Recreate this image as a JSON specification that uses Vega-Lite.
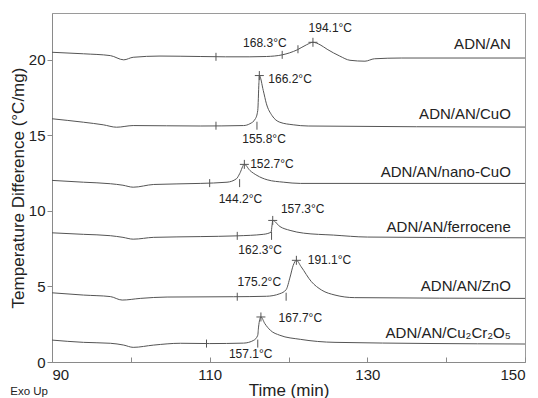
{
  "$schema": "https://vega.github.io/schema/vega-lite/v6.json",
  "width": 473,
  "height": 349,
  "autosize": "none",
  "padding": {"left": 52, "top": 13, "right": 13, "bottom": 36},
  "config": {
    "font": "Liberation Sans",
    "view": {"stroke": "#9a9a9a", "strokeWidth": 1},
    "axis": {
      "grid": false,
      "domainColor": "#8a8a8a",
      "tickColor": "#8a8a8a",
      "labelColor": "#222222",
      "titleColor": "#222222",
      "labelFont": "Liberation Sans",
      "titleFont": "Liberation Sans",
      "labelFontSize": 15,
      "titleFontSize": 17,
      "titleFontWeight": "normal"
    }
  },
  "datasets": {
    "curves": [
      {"s": "ADN/AN", "t": 90, "v": 20.5},
      {"s": "ADN/AN", "t": 94.0, "v": 20.4},
      {"s": "ADN/AN", "t": 97.4, "v": 20.28},
      {"s": "ADN/AN", "t": 99.1, "v": 20.0},
      {"s": "ADN/AN", "t": 100.3, "v": 20.17},
      {"s": "ADN/AN", "t": 103.7, "v": 20.25},
      {"s": "ADN/AN", "t": 108.8, "v": 20.22},
      {"s": "ADN/AN", "t": 112, "v": 20.2},
      {"s": "ADN/AN", "t": 115.1, "v": 20.2},
      {"s": "ADN/AN", "t": 117.2, "v": 20.22},
      {"s": "ADN/AN", "t": 119.2, "v": 20.33},
      {"s": "ADN/AN", "t": 121.1, "v": 20.66},
      {"s": "ADN/AN", "t": 122.3, "v": 21.0},
      {"s": "ADN/AN", "t": 123.1, "v": 21.16},
      {"s": "ADN/AN", "t": 124.0, "v": 21.0},
      {"s": "ADN/AN", "t": 124.9, "v": 20.7},
      {"s": "ADN/AN", "t": 126.5, "v": 20.25},
      {"s": "ADN/AN", "t": 127.8, "v": 19.97},
      {"s": "ADN/AN", "t": 129.7, "v": 19.91},
      {"s": "ADN/AN", "t": 130.9, "v": 20.07},
      {"s": "ADN/AN", "t": 134.3, "v": 20.12},
      {"s": "ADN/AN", "t": 150, "v": 20.12},

      {"s": "CuO", "t": 90, "v": 16.1},
      {"s": "CuO", "t": 94.0, "v": 15.87},
      {"s": "CuO", "t": 96.5, "v": 15.7},
      {"s": "CuO", "t": 98.2, "v": 15.54},
      {"s": "CuO", "t": 100.3, "v": 15.65},
      {"s": "CuO", "t": 108.8, "v": 15.62},
      {"s": "CuO", "t": 114.3, "v": 15.65},
      {"s": "CuO", "t": 115.1, "v": 15.77},
      {"s": "CuO", "t": 115.8, "v": 16.1},
      {"s": "CuO", "t": 116.1, "v": 16.65},
      {"s": "CuO", "t": 116.25, "v": 18.5},
      {"s": "CuO", "t": 116.3, "v": 18.96},
      {"s": "CuO", "t": 116.8, "v": 17.97},
      {"s": "CuO", "t": 117.2, "v": 17.09},
      {"s": "CuO", "t": 117.9, "v": 16.32},
      {"s": "CuO", "t": 118.9, "v": 15.87},
      {"s": "CuO", "t": 120.6, "v": 15.7},
      {"s": "CuO", "t": 122.5, "v": 15.62},
      {"s": "CuO", "t": 150, "v": 15.55},

      {"s": "nano-CuO", "t": 90, "v": 12.02},
      {"s": "nano-CuO", "t": 94.0, "v": 11.9},
      {"s": "nano-CuO", "t": 97.4, "v": 11.8},
      {"s": "nano-CuO", "t": 99.0, "v": 11.7},
      {"s": "nano-CuO", "t": 100.3, "v": 11.57},
      {"s": "nano-CuO", "t": 102.9, "v": 11.75},
      {"s": "nano-CuO", "t": 108.8, "v": 11.82},
      {"s": "nano-CuO", "t": 112.2, "v": 11.9},
      {"s": "nano-CuO", "t": 113.4, "v": 12.13},
      {"s": "nano-CuO", "t": 113.8, "v": 12.46},
      {"s": "nano-CuO", "t": 114.4, "v": 13.08},
      {"s": "nano-CuO", "t": 115.1, "v": 12.68},
      {"s": "nano-CuO", "t": 116.0, "v": 12.35},
      {"s": "nano-CuO", "t": 117.3, "v": 12.06},
      {"s": "nano-CuO", "t": 119.4, "v": 11.9},
      {"s": "nano-CuO", "t": 121.5, "v": 11.82},
      {"s": "nano-CuO", "t": 150, "v": 11.82},

      {"s": "ferrocene", "t": 90, "v": 8.55},
      {"s": "ferrocene", "t": 94.0, "v": 8.45},
      {"s": "ferrocene", "t": 97.4, "v": 8.36},
      {"s": "ferrocene", "t": 99.0, "v": 8.25},
      {"s": "ferrocene", "t": 100.3, "v": 8.13},
      {"s": "ferrocene", "t": 102.9, "v": 8.25},
      {"s": "ferrocene", "t": 108.8, "v": 8.3},
      {"s": "ferrocene", "t": 113.5, "v": 8.35},
      {"s": "ferrocene", "t": 116.8, "v": 8.45},
      {"s": "ferrocene", "t": 117.8, "v": 8.6},
      {"s": "ferrocene", "t": 117.9, "v": 9.0},
      {"s": "ferrocene", "t": 118.0, "v": 9.37},
      {"s": "ferrocene", "t": 118.9, "v": 8.97},
      {"s": "ferrocene", "t": 120.2, "v": 8.71},
      {"s": "ferrocene", "t": 121.9, "v": 8.53},
      {"s": "ferrocene", "t": 125.7, "v": 8.4},
      {"s": "ferrocene", "t": 130, "v": 8.27},
      {"s": "ferrocene", "t": 150, "v": 8.22},

      {"s": "ZnO", "t": 90, "v": 4.58},
      {"s": "ZnO", "t": 94.0, "v": 4.43},
      {"s": "ZnO", "t": 97.4, "v": 4.33},
      {"s": "ZnO", "t": 98.9, "v": 4.1},
      {"s": "ZnO", "t": 101.2, "v": 4.21},
      {"s": "ZnO", "t": 104.6, "v": 4.3},
      {"s": "ZnO", "t": 113.0, "v": 4.32},
      {"s": "ZnO", "t": 117.2, "v": 4.35},
      {"s": "ZnO", "t": 118.9, "v": 4.52},
      {"s": "ZnO", "t": 119.7, "v": 4.79},
      {"s": "ZnO", "t": 120.2, "v": 5.62},
      {"s": "ZnO", "t": 120.6, "v": 6.4},
      {"s": "ZnO", "t": 121.0, "v": 6.73},
      {"s": "ZnO", "t": 121.6, "v": 6.31},
      {"s": "ZnO", "t": 122.9, "v": 5.32},
      {"s": "ZnO", "t": 124.2, "v": 4.76},
      {"s": "ZnO", "t": 125.9, "v": 4.43},
      {"s": "ZnO", "t": 128.4, "v": 4.26},
      {"s": "ZnO", "t": 150, "v": 4.21},

      {"s": "Cu2Cr2O5", "t": 90, "v": 1.45},
      {"s": "Cu2Cr2O5", "t": 94.0, "v": 1.3},
      {"s": "Cu2Cr2O5", "t": 97.4, "v": 1.24},
      {"s": "Cu2Cr2O5", "t": 99.1, "v": 1.12},
      {"s": "Cu2Cr2O5", "t": 100.3, "v": 0.97},
      {"s": "Cu2Cr2O5", "t": 102.9, "v": 1.12},
      {"s": "Cu2Cr2O5", "t": 106.3, "v": 1.24},
      {"s": "Cu2Cr2O5", "t": 110, "v": 1.22},
      {"s": "Cu2Cr2O5", "t": 114.3, "v": 1.25},
      {"s": "Cu2Cr2O5", "t": 115.6, "v": 1.44},
      {"s": "Cu2Cr2O5", "t": 116.1, "v": 1.77},
      {"s": "Cu2Cr2O5", "t": 116.2, "v": 2.31},
      {"s": "Cu2Cr2O5", "t": 116.5, "v": 2.98},
      {"s": "Cu2Cr2O5", "t": 117.0, "v": 2.54},
      {"s": "Cu2Cr2O5", "t": 117.7, "v": 2.1},
      {"s": "Cu2Cr2O5", "t": 118.9, "v": 1.77},
      {"s": "Cu2Cr2O5", "t": 121.5, "v": 1.5},
      {"s": "Cu2Cr2O5", "t": 125.9, "v": 1.3},
      {"s": "Cu2Cr2O5", "t": 150, "v": 1.19}
    ],
    "limits": [
      {"t": 110.8, "v": 20.2},
      {"t": 119.2, "v": 20.33},
      {"t": 121.2, "v": 20.7},
      {"t": 110.8, "v": 15.64},
      {"t": 116.0, "v": 15.64},
      {"t": 110.0, "v": 11.84},
      {"t": 113.8, "v": 11.84},
      {"t": 113.5, "v": 8.35},
      {"t": 117.85, "v": 8.35},
      {"t": 113.5, "v": 4.32},
      {"t": 119.7, "v": 4.32},
      {"t": 109.6, "v": 1.22},
      {"t": 116.1, "v": 1.22}
    ],
    "peaks": [
      {"t": 123.1, "v": 21.16},
      {"t": 116.3, "v": 18.96},
      {"t": 114.4, "v": 13.08},
      {"t": 118.0, "v": 9.37},
      {"t": 121.0, "v": 6.73},
      {"t": 116.5, "v": 2.98}
    ],
    "temps": [
      {"label": "194.1°C", "t": 125.3, "v": 22.14},
      {"label": "168.3°C", "t": 117.0, "v": 21.12},
      {"label": "166.2°C", "t": 120.2, "v": 18.74},
      {"label": "155.8°C", "t": 116.9, "v": 14.78},
      {"label": "152.7°C", "t": 117.9, "v": 13.12},
      {"label": "144.2°C", "t": 113.9, "v": 10.78},
      {"label": "157.3°C", "t": 121.8, "v": 10.15},
      {"label": "162.3°C", "t": 116.4, "v": 7.39},
      {"label": "175.2°C", "t": 116.3, "v": 5.29},
      {"label": "191.1°C", "t": 125.2, "v": 6.75},
      {"label": "167.7°C", "t": 121.5, "v": 2.94},
      {"label": "157.1°C", "t": 115.2, "v": 0.56}
    ],
    "names": [
      {"label": "ADN/AN", "t": 148.2, "v": 21.06},
      {"label": "ADN/AN/CuO", "t": 148.2, "v": 16.43},
      {"label": "ADN/AN/nano-CuO", "t": 148.2, "v": 12.57},
      {"label": "ADN/AN/ferrocene", "t": 148.2, "v": 8.96},
      {"label": "ADN/AN/ZnO", "t": 148.2, "v": 5.05},
      {"label": "ADN/AN/Cu₂Cr₂O₅", "t": 148.2, "v": 1.9}
    ],
    "note": [
      {"label": "Exo Up", "t": 84.7, "v": -2.18}
    ]
  },
  "layer": [
    {
      "data": {"name": "curves"},
      "mark": {"type": "line", "color": "#555555", "strokeWidth": 1, "interpolate": "monotone"},
      "encoding": {
        "x": {
          "field": "t", "type": "quantitative",
          "scale": {"domain": [90, 150], "nice": false, "zero": false},
          "axis": {
            "title": "Time (min)",
            "values": [90, 95, 100, 105, 110, 115, 120, 125, 130, 135, 140, 145, 150],
            "labelExpr": "(datum.value - 90) % 20 == 0 ? datum.label : ''",
            "tickSize": -5,
            "labelPadding": 10,
            "titlePadding": 0
          }
        },
        "y": {
          "field": "v", "type": "quantitative",
          "scale": {"domain": [0, 23.1], "nice": false, "zero": false},
          "axis": {
            "title": "Temperature Difference (°C/mg)",
            "values": [0, 5, 10, 15, 20],
            "tickSize": 5,
            "labelPadding": 2,
            "titlePadding": 1
          }
        },
        "detail": {"field": "s"}
      }
    },
    {
      "data": {"name": "limits"},
      "mark": {"type": "point", "shape": "M0,-1L0,1", "size": 64, "filled": false, "stroke": "#555555", "strokeWidth": 1, "opacity": 1},
      "encoding": {
        "x": {"field": "t", "type": "quantitative"},
        "y": {"field": "v", "type": "quantitative"}
      }
    },
    {
      "data": {"name": "peaks"},
      "mark": {"type": "point", "shape": "M-1,0L1,0M0,-1L0,1", "size": 81, "filled": false, "stroke": "#555555", "strokeWidth": 1, "opacity": 1},
      "encoding": {
        "x": {"field": "t", "type": "quantitative"},
        "y": {"field": "v", "type": "quantitative"}
      }
    },
    {
      "data": {"name": "temps"},
      "mark": {"type": "text", "fontSize": 12, "color": "#222222", "align": "center", "baseline": "middle"},
      "encoding": {
        "x": {"field": "t", "type": "quantitative"},
        "y": {"field": "v", "type": "quantitative"},
        "text": {"field": "label"}
      }
    },
    {
      "data": {"name": "names"},
      "mark": {"type": "text", "fontSize": 15, "color": "#222222", "align": "right", "baseline": "middle"},
      "encoding": {
        "x": {"field": "t", "type": "quantitative"},
        "y": {"field": "v", "type": "quantitative"},
        "text": {"field": "label"}
      }
    },
    {
      "data": {"name": "note"},
      "mark": {"type": "text", "fontSize": 11.5, "color": "#222222", "align": "left", "baseline": "alphabetic"},
      "encoding": {
        "x": {"field": "t", "type": "quantitative"},
        "y": {"field": "v", "type": "quantitative"},
        "text": {"field": "label"}
      }
    }
  ]
}
